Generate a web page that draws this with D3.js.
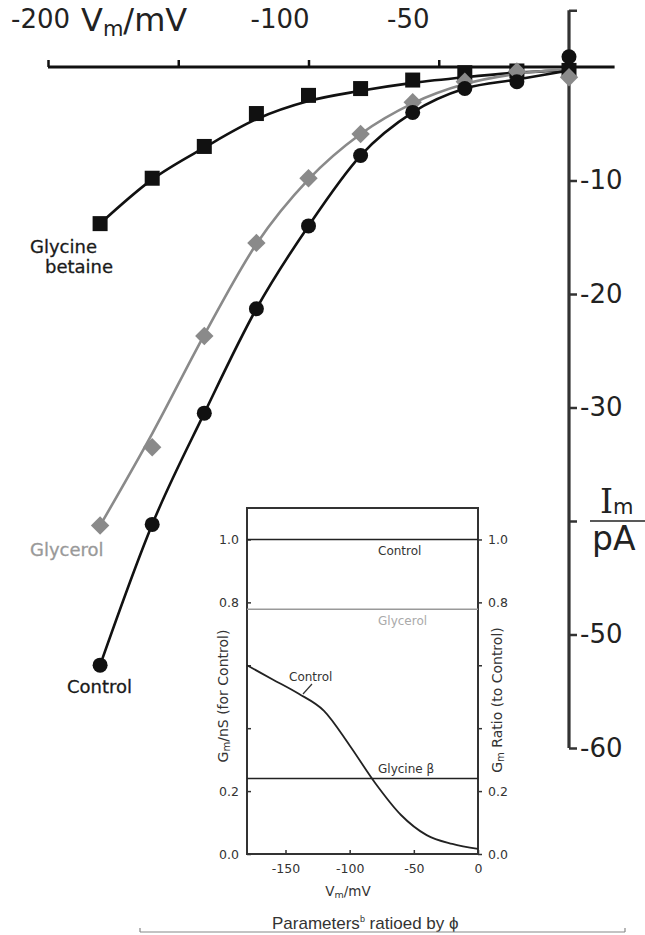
<!DOCTYPE html>
<html><head><meta charset="utf-8">
<script src="https://cdn.jsdelivr.net/npm/d3@7/dist/d3.min.js"></script>
<style>
html,body{margin:0;padding:0;background:#fff;}
svg{display:block;}
</style></head>
<body>
<svg id="chart" width="645" height="935"></svg>
<script>
// ---------- DATA ----------
const voltages = [-180, -160, -140, -120, -100, -80, -60, -40, -20, 0];
// measured points (pA)
const controlI = [-52.7, -40.3, -30.5, -21.3, -14.0, -7.8, -4.0, -1.9, -1.3, 0.9];
const glycerolI = [-40.4, -33.5, -23.7, -15.5, -9.8, -5.9, -3.1, -1.3, -0.4, -0.9];
const betaineI = [-13.8, -9.8, -7.0, -4.1, -2.5, -1.9, -1.15, -0.5, -0.35, -0.3];
// fitted curves (pA)
const controlFit = [-52.7, -40.3, -30.5, -21.3, -14.0, -7.8, -4.0, -1.9, -1.1, -0.3];
const glycerolFit = [-40.4, -32.3, -23.6, -15.6, -9.9, -5.9, -3.2, -1.5, -0.6, -0.2];
const betaineFit = [-13.8, -9.9, -7.1, -4.6, -3.0, -2.1, -1.4, -0.9, -0.5, -0.3];
const xTicks = [-200, -150, -100, -50];
const xTickLabels = ["-200", "", "-100", "-50"];
const yTicks = [5, -10, -20, -30, -40, -50, -60];
const yTickLabels = ["", "-10", "-20", "-30", "", "-50", "-60"];

// inset
const insetV = [-180, -160, -140, -120, -100, -80, -60, -40, -20, 0];
const insetControlG = [0.60, 0.555, 0.51, 0.455, 0.345, 0.225, 0.124, 0.06, 0.032, 0.016];
const ratioLevels = [1.0, 0.778, 0.24];
const ratioNames = ["Control", "Glycerol", "Glycine \u03B2"];
const insetXTicks = [-150, -100, -50, 0];
const insetXLabels = ["-150", "-100", "-50", "0"];
const insetYTicks = [0, 0.2, 0.4, 0.6, 0.8, 1.0];
const insetYLabels = ["0.0", "0.2", "", "", "0.8", "1.0"];

// ---------- DRAW ----------
const svg = d3.select("#chart");
const FONT = "DejaVu Sans, Verdana, sans-serif";
const DARK = "#111";
const GRAY = "#8a8a8a";

const x = d3.scaleLinear().domain([-200, 0]).range([48, 569]);
const y = d3.scaleLinear().domain([0, -60]).range([67, 748]);

// horizontal (V) axis
const xLabelShift = [-8, 0, -29, -31];
const gx = svg.append("g").attr("transform", `translate(0,${y(0)})`)
  .call(d3.axisTop(x).tickValues(xTicks).tickSize(7).tickPadding(32)
    .tickFormat((d, i) => xTickLabels[i]));
gx.select(".domain").remove();
gx.selectAll(".tick line").attr("stroke", DARK).attr("stroke-width", 2.5);
gx.selectAll(".tick text").attr("font-family", FONT).attr("font-size", 26)
  .attr("fill", "#222").attr("dx", (d, i) => xLabelShift[i]);
svg.append("line").attr("x1", x(-200)).attr("x2", x(17.5))
  .attr("y1", y(0)).attr("y2", y(0)).attr("stroke", DARK).attr("stroke-width", 3);

// V_m/mV label
const vt = svg.append("text").attr("x", 81).attr("y", 31)
  .attr("font-family", FONT).attr("font-size", 32).attr("fill", "#222");
vt.append("tspan").text("V");
vt.append("tspan").attr("font-size", 21).attr("dy", 5).text("m");
vt.append("tspan").attr("dy", -5).text("/mV");

// vertical (I) axis
const gy = svg.append("g").attr("transform", `translate(${x(0)},0)`)
  .call(d3.axisRight(y).tickValues(yTicks).tickSize(8).tickPadding(3)
    .tickFormat((d, i) => yTickLabels[i]));
gy.select(".domain").remove();
gy.selectAll(".tick line").attr("stroke", "#333").attr("stroke-width", 2.5);
gy.selectAll(".tick text").attr("font-family", FONT).attr("font-size", 26)
  .attr("fill", "#222");
svg.append("line").attr("x1", x(0)).attr("x2", x(0))
  .attr("y1", y(5)).attr("y2", y(-60)).attr("stroke", "#333").attr("stroke-width", 3.2);

// I_m / pA label
const it = svg.append("text").attr("x", 600).attr("y", 513)
  .attr("font-family", FONT).attr("font-size", 33).attr("fill", "#222");
it.append("tspan").attr("font-family", "DejaVu Serif, serif").text("I");
it.append("tspan").attr("font-size", 21).attr("dy", 1).text("m");
svg.append("line").attr("x1", 590).attr("x2", 645).attr("y1", 521).attr("y2", 521)
  .attr("stroke", "#222").attr("stroke-width", 1.5);
svg.append("text").attr("x", 592).attr("y", 550).attr("font-family", FONT)
  .attr("font-size", 33).attr("fill", "#222").text("pA");

// fitted curves
const line = d3.line().x(d => x(d[0])).y(d => y(d[1])).curve(d3.curveMonotoneX);
function curve(vals, color) {
  svg.append("path").datum(voltages.map((v, i) => [v, vals[i]]))
    .attr("d", line).attr("fill", "none").attr("stroke", color).attr("stroke-width", 2.6);
}
curve(betaineFit, DARK);
curve(glycerolFit, GRAY);
curve(controlFit, DARK);

// markers
svg.append("g").selectAll("rect").data(voltages.map((v, i) => [v, betaineI[i]]))
  .join("rect").attr("x", d => x(d[0]) - 7.5).attr("y", d => y(d[1]) - 7.5)
  .attr("width", 15).attr("height", 15).attr("fill", DARK);
svg.append("g").selectAll("path").data(voltages.map((v, i) => [v, glycerolI[i]]))
  .join("path").attr("d", d3.symbol(d3.symbolSquare, 13 * 13)())
  .attr("transform", d => `translate(${x(d[0])},${y(d[1])}) rotate(45)`).attr("fill", GRAY);
svg.append("g").selectAll("circle").data(voltages.map((v, i) => [v, controlI[i]]))
  .join("circle").attr("cx", d => x(d[0])).attr("cy", d => y(d[1])).attr("r", 7.5).attr("fill", DARK);

// series labels
function lab(txt, xx, yy, col) {
  svg.append("text").attr("x", xx).attr("y", yy).attr("font-family", FONT)
    .attr("font-size", 18).attr("fill", col).attr("stroke", col).attr("stroke-width", 0.3).text(txt);
}
lab("Glycine", 30, 253, "#1a1a1a");
lab("betaine", 45, 273, "#1a1a1a");
lab("Glycerol", 30, 556, "#999");
lab("Control", 67, 693, "#1a1a1a");

// ---------- INSET ----------
const ix = d3.scaleLinear().domain([-180, 0]).range([247, 478]);
const iy = d3.scaleLinear().domain([0, 1.1]).range([854, 508]);
const IF = 12.5;

svg.append("rect").attr("x", 247).attr("y", 508).attr("width", 231).attr("height", 346)
  .attr("fill", "#fff").attr("stroke", "#333").attr("stroke-width", 2);

function styleAxis(g) {
  g.select(".domain").remove();
  g.selectAll(".tick line").attr("stroke", "#333").attr("stroke-width", 1.5);
  g.selectAll(".tick text").attr("font-family", FONT).attr("font-size", IF).attr("fill", "#333");
}
const gix = svg.append("g").attr("transform", "translate(0,854)")
  .call(d3.axisBottom(ix).tickValues(insetXTicks).tickSize(-4).tickPadding(10)
    .tickFormat((d, i) => insetXLabels[i]));
styleAxis(gix);
const giyl = svg.append("g").attr("transform", "translate(247,0)")
  .call(d3.axisLeft(iy).tickValues(insetYTicks).tickSize(-4).tickPadding(8)
    .tickFormat((d, i) => insetYLabels[i]));
styleAxis(giyl);
const giyr = svg.append("g").attr("transform", "translate(478,0)")
  .call(d3.axisRight(iy).tickValues(insetYTicks).tickSize(4).tickPadding(6)
    .tickFormat((d, i) => insetYLabels[i]));
styleAxis(giyr);

// ratio lines
const ratioColors = ["#222", "#999", "#222"];
ratioLevels.forEach((r, i) => {
  svg.append("line").attr("x1", 247).attr("x2", 478).attr("y1", iy(r)).attr("y2", iy(r))
    .attr("stroke", ratioColors[i]).attr("stroke-width", 1.6);
  svg.append("text").attr("x", 378).attr("y", iy(r) + (i === 2 ? -6 : 16))
    .attr("font-family", FONT).attr("font-size", 12)
    .attr("fill", i === 1 ? "#aaa" : "#333").text(ratioNames[i]);
});

// control conductance curve
const iline = d3.line().x(d => ix(d[0])).y(d => iy(d[1])).curve(d3.curveMonotoneX);
svg.append("path").datum(insetV.map((v, i) => [v, insetControlG[i]]))
  .attr("d", iline).attr("fill", "none").attr("stroke", "#222").attr("stroke-width", 1.8);
svg.append("text").attr("x", 289).attr("y", 681).attr("font-family", FONT)
  .attr("font-size", 12).attr("fill", "#333").text("Control");
svg.append("line").attr("x1", 303).attr("y1", 694).attr("x2", 312).attr("y2", 684)
  .attr("stroke", "#333").attr("stroke-width", 1.2);

// inset axis titles
const xl = svg.append("text").attr("x", 348).attr("y", 896).attr("text-anchor", "middle")
  .attr("font-family", FONT).attr("font-size", 13.5).attr("fill", "#333");
xl.append("tspan").text("V");
xl.append("tspan").attr("font-size", 9.5).attr("dy", 2).text("m");
xl.append("tspan").attr("dy", -2).text("/mV");

const yl = svg.append("text").attr("transform", "translate(228,696) rotate(-90)")
  .attr("text-anchor", "middle").attr("font-family", FONT).attr("font-size", 14).attr("fill", "#333");
yl.append("tspan").text("G");
yl.append("tspan").attr("font-size", 10).attr("dy", 2).text("m");
yl.append("tspan").attr("dy", -2).text("/nS (for Control)");

const yr = svg.append("text").attr("transform", "translate(502,700) rotate(-90)")
  .attr("text-anchor", "middle").attr("font-family", FONT).attr("font-size", 14).attr("fill", "#333");
yr.append("tspan").text("G");
yr.append("tspan").attr("font-size", 10).attr("dy", 2).text("m");
yr.append("tspan").attr("dy", -2).text(" Ratio (to Control)");

// caption under inset
const cap = svg.append("text").attr("x", 272).attr("y", 929)
  .attr("font-family", "Liberation Sans, Arial, sans-serif").attr("font-size", 17).attr("fill", "#333");
cap.append("tspan").text("Parameters");
cap.append("tspan").attr("font-size", 9).attr("dy", -7).text("b");
cap.append("tspan").attr("dy", 7).text(" ratioed by \u03D5");
svg.append("line").attr("x1", 140).attr("x2", 625).attr("y1", 932).attr("y2", 932)
  .attr("stroke", "#888").attr("stroke-width", 1.2);
[140, 625].forEach(xx => svg.append("line").attr("x1", xx).attr("x2", xx)
  .attr("y1", 928).attr("y2", 932).attr("stroke", "#888").attr("stroke-width", 1.2));
</script>
</body></html>
